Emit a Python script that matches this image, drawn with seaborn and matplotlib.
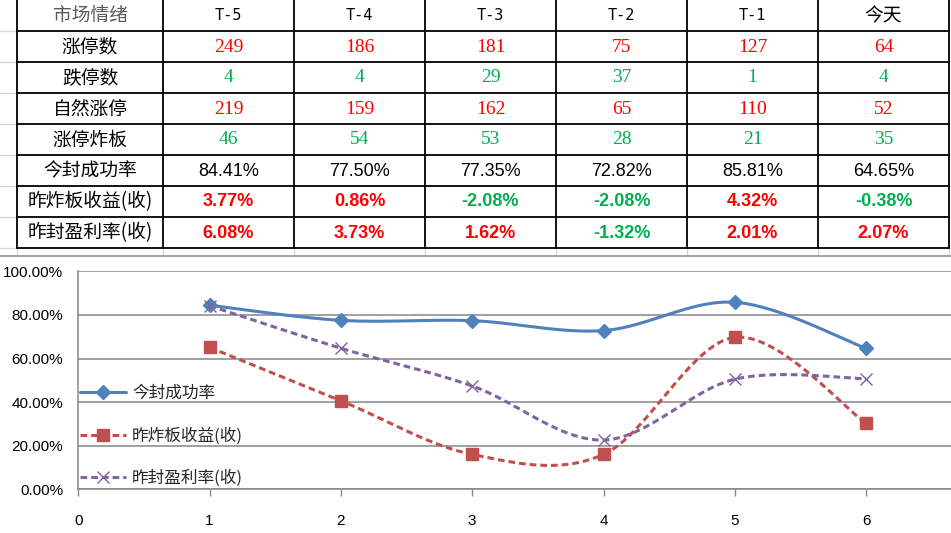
import numpy as np
import seaborn as sns
import matplotlib
matplotlib.use("Agg")
from matplotlib import pyplot as plt
from matplotlib.lines import Line2D

# table data
colNames = ['T-5', 'T-4', 'T-3', 'T-2', 'T-1', '今天']
rowNames = ['涨停数', '跌停数', '自然涨停', '涨停炸板', '今封成功率', '昨炸板收益(收)', '昨封盈利率(收)']
ztCount = [249, 186, 181, 75, 127, 64]
dtCount = [4, 4, 29, 37, 1, 4]
naturalZt = [219, 159, 162, 65, 110, 52]
ztBroken = [46, 54, 53, 28, 21, 35]
sealRate = [84.41, 77.50, 77.35, 72.82, 85.81, 64.65]
brokenRet = [3.77, 0.86, -2.08, -2.08, 4.32, -0.38]
sealProfit = [6.08, 3.73, 1.62, -1.32, 2.01, 2.07]

# chart data (as plotted)
chartX = [1, 2, 3, 4, 5, 6]
chartSeal = sealRate
chartBroken = [65.1, 40.6, 16.0, 16.0, 69.7, 30.3]
chartProfit = [84.2, 64.7, 47.4, 22.6, 50.5, 50.7]
legendNames = ['今封成功率', '昨炸板收益(收)', '昨封盈利率(收)']

RED = '#FF0000'
GREEN = '#00B050'
CJK = ['Noto Sans CJK SC', 'DejaVu Sans']


def smooth(xv, yv, n=40):
    '''Catmull-Rom smoothing, like the Excel "smoothed line" option'''
    x = np.asarray(xv, float)
    y = np.asarray(yv, float)
    xp = np.concatenate([[x[0]], x, [x[-1]]])
    yp = np.concatenate([[y[0]], y, [y[-1]]])
    xs, ys = [], []
    for i in range(len(x) - 1):
        t = np.linspace(0, 1, n, endpoint=(i == len(x) - 2))
        h00 = 2 * t**3 - 3 * t**2 + 1
        h10 = t**3 - 2 * t**2 + t
        h01 = -2 * t**3 + 3 * t**2
        h11 = t**3 - t**2
        for src, dst in ((xp, xs), (yp, ys)):
            p1, p2 = src[i + 1], src[i + 2]
            m1 = (src[i + 2] - src[i]) / 2
            m2 = (src[i + 3] - src[i + 1]) / 2
            dst.extend(h00 * p1 + h10 * m1 + h01 * p2 + h11 * m2)
    return np.array(xs), np.array(ys)


sns.set_theme(style='white')
plt.rcParams['font.family'] = CJK

W, H = 951, 533
fig = plt.figure(figsize=(W / 100, H / 100), dpi=100)

# ---- table drawn in pixel space ----
tab = fig.add_axes([0, 0, 1, 1])
tab.set_xlim(0, W)
tab.set_ylim(H, 0)
tab.axis('off')

colEdges = np.cumsum([17, 146] + [131] * 6)
rowEdges = np.array([-1, 30.5, 61.5, 92.5, 123.5, 154.5, 185.5, 216.5, 247.5])

# faint spreadsheet grid
for y in rowEdges[1:]:
    tab.plot([0, colEdges[0]], [y, y], color='#D0D7E5', lw=1)
for x in colEdges:
    tab.plot([x, x], [rowEdges[-1], 256], color='#D0D7E5', lw=1)

for y in rowEdges[1:]:
    tab.plot([colEdges[0], colEdges[-1]], [y, y], color='black', lw=1.3)
for x in colEdges:
    tab.plot([x, x], [rowEdges[0], rowEdges[-1]], color='black', lw=1.3)

# chart area top border
tab.plot([0, W], [256, 256], color='#9A9A9A', lw=1.3)

colMid = (colEdges[:-1] + colEdges[1:]) / 2
rowMid = (rowEdges[:-1] + rowEdges[1:]) / 2 + 1

tab.text(colMid[0], rowMid[0], '市场情绪', ha='center', va='center',
         fontsize=13.5, color='#5a5a5a', family=CJK)
for j, c in enumerate(colNames):
    if c.startswith('T'):
        tab.text(colMid[j + 1], rowMid[0], c, ha='center', va='center',
                 fontsize=11, family='DejaVu Sans Mono', color='black')
    else:
        tab.text(colMid[j + 1], rowMid[0], c, ha='center', va='center',
                 fontsize=13.5, family=CJK, color='black')

for i, r in enumerate(rowNames):
    tab.text(colMid[0], rowMid[i + 1], r, ha='center', va='center',
             fontsize=13.5, family=CJK, color='black')

countRows = [(ztCount, RED), (dtCount, GREEN), (naturalZt, RED), (ztBroken, GREEN)]
for i, (vals, colr) in enumerate(countRows):
    for j, v in enumerate(vals):
        tab.text(colMid[j + 1], rowMid[i + 1], str(v), ha='center', va='center',
                 fontsize=14, family='Liberation Serif', color=colr)

for j, v in enumerate(sealRate):
    tab.text(colMid[j + 1], rowMid[5], f'{v:.2f}%', ha='center', va='center',
             fontsize=13, family='Liberation Sans', color='black')

for i, vals in enumerate([brokenRet, sealProfit]):
    for j, v in enumerate(vals):
        tab.text(colMid[j + 1], rowMid[6 + i], f'{v:.2f}%', ha='center', va='center',
                 fontsize=13, family='Liberation Sans', fontweight='bold',
                 color=RED if v >= 0 else GREEN)

# ---- line chart ----
left = 78.3 / W
bottom = (H - 489.3) / H
ax = fig.add_axes([left, bottom, 1 - left, 218 / H])
ax.set_facecolor('none')

styles = [
    (chartSeal, '#4F81BD', '-', 'D', 7, 1.0),
    (chartBroken, '#C0504D', (0, (2.2, 1.3)), 's', 9, 1.0),
    (chartProfit, '#8064A2', (0, (2.2, 1.3)), 'x', 8, 1.0),
]
handles = []
for (vals, colr, ls, mk, ms, mew), name in zip(styles, legendNames):
    xs, ys = smooth(chartX, vals)
    sns.lineplot(x=xs, y=ys, ax=ax, color=colr, linewidth=2.2, linestyle=ls,
                 sort=False, estimator=None)
    ax.plot(chartX, vals, linestyle='none', marker=mk, markersize=ms,
            color=colr, markeredgewidth=mew, zorder=5)
    handles.append(Line2D([], [], color=colr, lw=2.2, linestyle=ls, marker=mk,
                          markersize=ms, markeredgewidth=mew))

ax.set_xlim(0, (W - 78.3) / 131.3)
ax.set_ylim(0, 100)
ax.set_xticks(range(0, 7))
ax.set_yticks(range(0, 101, 20))
ax.set_yticklabels([f'{v:.2f}%' for v in range(0, 101, 20)])
ax.grid(axis='y', color='#868686', lw=1.1)
ax.grid(axis='x', visible=False)
for s in ['top', 'right']:
    ax.spines[s].set_visible(False)
for s in ['left', 'bottom']:
    ax.spines[s].set_color('#868686')
    ax.spines[s].set_linewidth(1.1)
ax.tick_params(axis='y', length=0, pad=11, labelsize=11, labelcolor='black')
ax.tick_params(axis='x', length=5, width=1, color='#868686', direction='out',
               pad=13, labelsize=11, labelcolor='black', bottom=True)
for lab in ax.get_xticklabels() + ax.get_yticklabels():
    lab.set_family('Liberation Sans')

ax.legend(handles=handles, labels=legendNames, loc='center left',
          bbox_to_anchor=(0.002, 0.245), frameon=False,
          handlelength=2.76, handletextpad=0.36, labelspacing=1.5,
          borderpad=0, borderaxespad=0, prop={'family': CJK, 'size': 12})

fig.savefig('out.png', dpi=100)
